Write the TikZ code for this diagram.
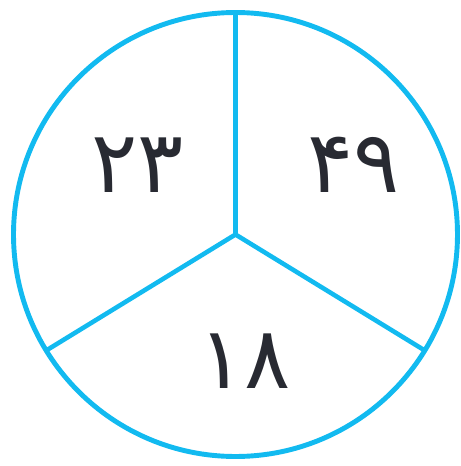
\documentclass[tikz,border=0pt]{standalone}
\usepackage{fontspec}
\newfontfamily\persianfont[Script=Arabic]{DejaVu Sans}
\usepackage{tkz-euclide}
\definecolor{piecyan}{RGB}{18,186,240}
\definecolor{digitgray}{RGB}{40,42,50}
\tikzset{share/.style={text=digitgray,inner sep=0pt,font=\persianfont\fontsize{49}{58}\selectfont}}

\begin{document}
\begin{tikzpicture}
\useasboundingbox (-4.71,-4.63) rectangle (4.51,4.69);
\tkzSetUpLine[line width=2.8pt,color=piecyan]

\tkzDefPoint(0,0){O}
\tkzDefPoint(90:4.44){A}
\tkzDefPoint(211.5:4.44){B}
\tkzDefPoint(-31.5:4.44){C}

\tkzDrawSegments[line width=2.6pt,color=piecyan](O,A O,B O,C)
\tkzDrawCircle[line width=2.8pt,color=piecyan](O,A)

% shares of the circle
\node[share] (left)  at (-1.96,1.39) {۲۳};
\node[share] (right) at (2.36,1.39)  {۴۹};
\node[share] (low)   at (0.18,-2.54) {۱۸};

\end{tikzpicture}
\end{document}
